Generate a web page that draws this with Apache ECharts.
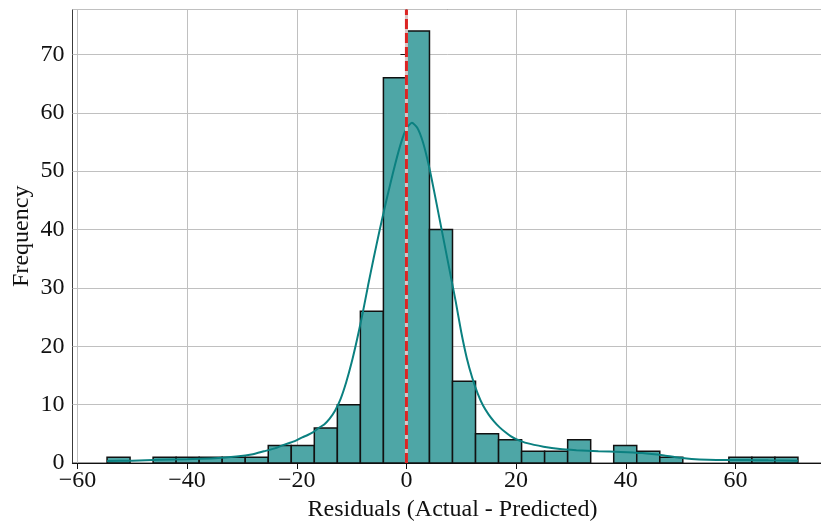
<!DOCTYPE html>
<html>
<head>
<meta charset="utf-8">
<title>Residuals histogram</title>
<script src="https://cdn.jsdelivr.net/npm/echarts@6/dist/echarts.min.js"></script>
<style>
  html, body {margin: 0; padding: 0; background: #fff;}
  #chart {width: 821px; height: 521px;}
</style>
</head>
<body>
<div id="chart"></div>
<script>
// histogram bins (30 bins, left edge to right edge)
const binEdges = [
  -54.6, -50.4, -46.2, -42.0, -37.8, -33.6, -29.4, -25.2, -21.0, -16.8,
  -12.6, -8.4, -4.2, 0.0, 4.2, 8.4, 12.6, 16.8, 21.0, 25.2,
  29.4, 33.6, 37.8, 42.0, 46.2, 50.4, 54.6, 58.8, 63.0, 67.2, 71.4
];
const counts = [
  1, 0, 1, 1, 1, 1, 1, 3, 3, 6,
  10, 26, 66, 74, 40, 14, 5, 4, 2, 2,
  4, 0, 3, 2, 1, 0, 0, 1, 1, 1
];

// kde curve (x, frequency)
const kdeX = [
  -54.6, -50, -45, -40, -35, -31, -28, -26, -24, -22.4,
  -20.5, -19, -18, -17, -16, -15, -14, -13, -12, -11,
  -10, -9, -8, -7, -6, -5, -4, -3, -2, -1,
  0, 1, 2, 3, 4, 5, 6, 7, 8, 9,
  10, 11, 12, 13, 14, 15, 16, 17, 18, 19,
  20, 22, 25, 28, 31, 35, 39, 43, 47, 50,
  52, 55, 58, 62, 66, 71.4
];
const kdeY = [
  0.35, 0.4, 0.55, 0.65, 0.8, 1.1, 1.5, 2.0, 2.5, 3.1,
  3.7, 4.4, 4.8, 5.3, 6.0, 6.6, 7.6, 9.0, 11.0, 13.8,
  17.2, 21.2, 25.6, 30.4, 35.0, 39.4, 43.6, 47.6, 51.4, 54.8,
  57.3, 58.3, 57.4, 55.0, 51.3, 46.8, 42.0, 37.2, 32.4, 27.6,
  22.4, 18.0, 14.6, 11.9, 9.8, 8.3, 7.1, 6.1, 5.3, 4.6,
  4.1, 3.4, 2.8, 2.4, 2.2, 2.0, 1.9, 1.7, 1.3, 0.9,
  0.7, 0.55, 0.5, 0.5, 0.45, 0.4
];

// zero-residual reference line
const zeroLine = [[0, 0], [0, 77.7]];

const xTicks = [-60, -40, -20, 0, 20, 40, 60];

const font = '"Liberation Serif", "DejaVu Serif", serif';
const minus = v => String(v).replace('-', '\u2212');

const bars = counts.map((c, i) => [binEdges[i], binEdges[i + 1], c]);
const kde = kdeX.map((x, i) => [x, kdeY[i]]);

const chart = echarts.init(document.getElementById('chart'), null, {renderer: 'canvas'});

chart.setOption({
  animation: false,
  backgroundColor: '#fff',
  grid: {
    left: 72.5, top: 9.5, width: 760, height: 453.5,
    outerBoundsMode: 'none', containLabel: false,
    show: true, borderColor: '#3a3a3a', borderWidth: 1
  },
  xAxis: {
    type: 'value',
    min: -60.9,
    max: 77.7,
    name: 'Residuals (Actual - Predicted)',
    nameLocation: 'middle',
    nameGap: 35,
    nameMoveOverlap: false,
    nameTextStyle: {fontFamily: font, fontSize: 24, color: '#111'},
    axisLine: {show: true, onZero: false, lineStyle: {color: '#111', width: 1.2}},
    axisTick: {show: true, length: 6, customValues: xTicks, lineStyle: {color: '#111'}},
    axisLabel: {
      customValues: xTicks, margin: 6,
      fontFamily: font, fontSize: 24, color: '#111',
      formatter: minus
    },
    splitLine: {show: true, lineStyle: {color: '#c0c0c0', width: 1}}
  },
  yAxis: {
    type: 'value',
    min: 0,
    max: 77.7,
    interval: 10,
    name: 'Frequency',
    nameLocation: 'middle',
    nameGap: 39,
    nameMoveOverlap: false,
    nameTextStyle: {fontFamily: font, fontSize: 24, color: '#111'},
    axisLine: {show: true, lineStyle: {color: '#111', width: 1.2}},
    axisTick: {show: true, length: 6, lineStyle: {color: '#111'}},
    axisLabel: {
      margin: 8, fontFamily: font, fontSize: 24, color: '#111',
      showMaxLabel: false
    },
    splitLine: {show: true, lineStyle: {color: '#c0c0c0', width: 1}}
  },
  series: [
    {
      type: 'custom',
      name: 'hist',
      data: bars,
      encode: {x: [0, 1], y: 2},
      renderItem: (params, api) => {
        if (api.value(2) === 0) return;
        const p0 = api.coord([api.value(0), api.value(2)]);
        const p1 = api.coord([api.value(1), 0]);
        return {
          type: 'rect',
          shape: {x: p0[0], y: p0[1], width: p1[0] - p0[0], height: p1[1] - p0[1]},
          style: {fill: '#4ea6a6', stroke: '#111', lineWidth: 1.5}
        };
      },
      z: 2
    },
    {
      type: 'line',
      name: 'kde',
      data: kde,
      smooth: 0.2,
      symbol: 'none',
      lineStyle: {color: '#0b8080', width: 2},
      z: 3
    },
    {
      // pale underlay so the gaps of the dashes look light
      type: 'line',
      name: 'zeroBase',
      data: zeroLine,
      symbol: 'none',
      lineStyle: {color: '#d9c4c4', width: 3},
      z: 9
    },
    {
      type: 'line',
      name: 'zero',
      data: zeroLine,
      symbol: 'none',
      lineStyle: {color: '#dc2423', width: 3, type: [10, 4]},
      z: 10
    }
  ]
});
</script>
</body>
</html>
